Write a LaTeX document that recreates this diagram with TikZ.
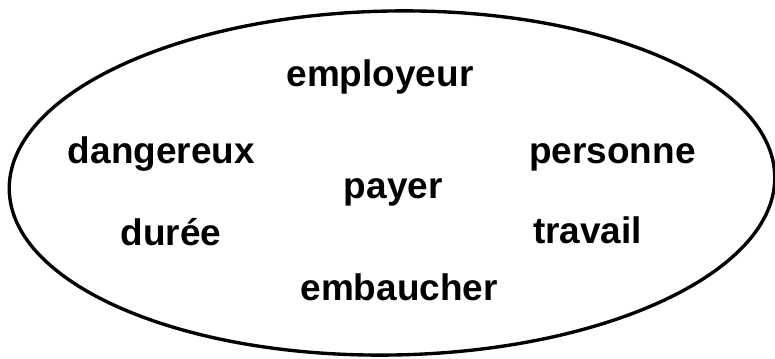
\documentclass[tikz,border=0pt]{standalone}
\usepackage{fontspec}
\setmainfont{Liberation Sans}
\usepackage{tikz}
\tikzset{word/.style={font=\fontsize{26.3}{30}\selectfont\bfseries, inner sep=0pt, anchor=base}}

\begin{document}
\begin{tikzpicture}
        \useasboundingbox (-9.800000cm, -4.375000cm) rectangle (9.575000cm, 4.575000cm);
        \draw [line width=2.4pt, rotate=1] (0cm, 0cm) ellipse (9.570000cm and 4.300000cm);
        \node (w0) [word] at (-0.300000cm, 2.408000cm) {employeur};
        \node (w1) [word] at (-5.763000cm, 0.493000cm) {dangereux};
        \node (w2) [word] at (5.513000cm, 0.493000cm) {personne};
        \node (w3) [word] at (0.033000cm, -0.383000cm) {payer};
        \node (w4) [word] at (-5.530000cm, -1.550000cm) {durée};
        \node (w5) [word] at (4.888000cm, -1.508000cm) {travail};
        \node (w6) [word] at (0.180000cm, -2.925000cm) {embaucher};
\end{tikzpicture}
\end{document}
